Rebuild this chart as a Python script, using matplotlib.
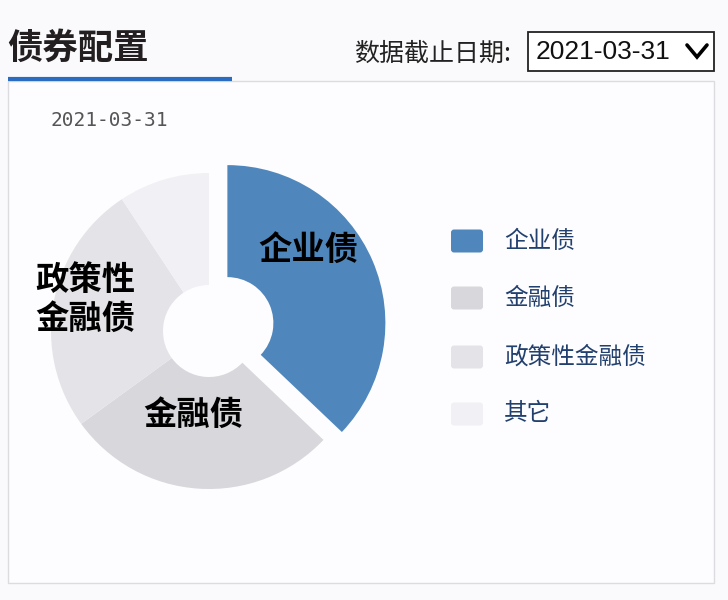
import matplotlib
matplotlib.use('Agg')
import matplotlib.pyplot as plt
from matplotlib.patches import Rectangle, FancyBboxPatch

plt.rcParams['font.family'] = ['Noto Sans CJK SC', 'DejaVu Sans']

# 数据
categories = ['企业债', '金融债', '政策性金融债', '其它']
shares = [37.1, 27.9, 25.7, 9.3]
slice_labels = ['企业债', '金融债', '政策性\n金融债', '']
colors = ['#4f87bc', '#d8d8dc', '#e4e4e8', '#f1f0f4']
as_of = '2021-03-31'

W, H = 728, 600


def fy(y):
    # 图片坐标(上为0) -> 数据坐标
    return H - y


fig = plt.figure(figsize=(W / 100, H / 100), dpi=100, facecolor='#fafafc')
ax = fig.add_axes([0, 0, 1, 1])

# 饼图（环形）
wedges, _ = ax.pie(shares, colors=colors, startangle=90, counterclock=False,
                   radius=158, center=(209, fy(331)), explode=[20, 0, 0, 0],
                   wedgeprops=dict(width=112, linewidth=0))

ax.set_xlim(0, W)
ax.set_ylim(0, H)
ax.set_aspect('equal')
ax.axis('off')

# 面板
ax.add_patch(Rectangle((8, fy(583)), 706, 502, facecolor='#fdfcfe',
                       edgecolor='#dcdce0', linewidth=1, zorder=0))
ax.plot([8, 232], [fy(79), fy(79)], color='#2a6cc0', lw=3, zorder=3,
        solid_capstyle='butt')

# 标题
ax.text(7, fy(48), '债券配置', fontsize=25.5, fontweight='bold', color='#231f20',
        va='center', ha='left')
ax.text(511, fy(54), '数据截止日期:', fontsize=18, color='#222222',
        va='center', ha='right')

# 下拉框
ax.add_patch(Rectangle((528, fy(71)), 186, 39, facecolor='white',
                       edgecolor='#222222', linewidth=1.3, zorder=2))
ax.text(536, fy(52), as_of, fontsize=19, color='#111111', va='center',
        ha='left', family='Liberation Sans', zorder=3)
ax.plot([687, 697, 707], [fy(45), fy(57), fy(45)], color='black', lw=2.6,
        zorder=3, solid_capstyle='round', solid_joinstyle='miter')

# 小日期
ax.text(50, fy(120), as_of, fontsize=14, color='#555555', va='center',
        ha='left', family='DejaVu Sans Mono')

# 扇区标签
label_pos = [(308, 250), (193, 415), (85, 300)]
for txt, (lx, ly) in zip(slice_labels, label_pos):
    ax.text(lx, fy(ly), txt, fontsize=24, fontweight='heavy', color='black',
            ha='center', va='center', linespacing=1.2, zorder=4)

# 图例
row_y = [241, 298, 357, 414]
for name, c, ry in zip(categories, colors, row_y):
    ax.add_patch(FancyBboxPatch((452, fy(ry) - 10.5), 30, 21,
                                boxstyle='round,pad=1,rounding_size=3',
                                facecolor=c, edgecolor='none', zorder=3))
    ax.text(504, fy(ry), name, fontsize=17, color='#22406e', va='center',
            ha='left')

fig.savefig('out.png', dpi=100, facecolor=fig.get_facecolor())
